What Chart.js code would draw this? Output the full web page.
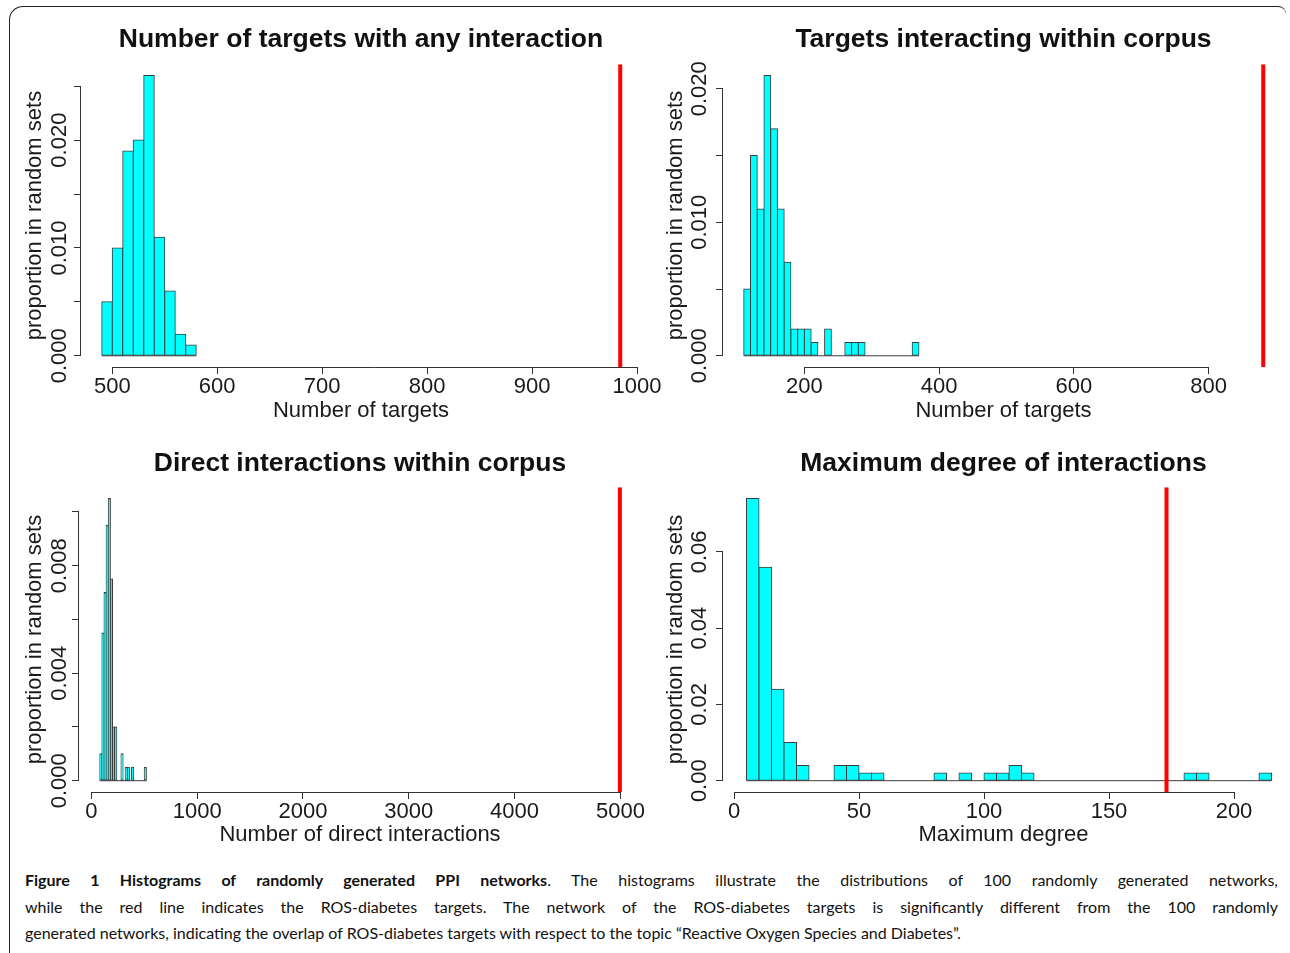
<!DOCTYPE html>
<html>
<head>
<meta charset="utf-8">
<script src="https://cdn.jsdelivr.net/npm/chart.js@4.4.1/dist/chart.umd.min.js"></script>
<style>
html, body { margin: 0; padding: 0; background: #fff; overflow: hidden; }
body { width: 1290px; height: 953px; position: relative; }
.frame { position: absolute; left: 9px; top: 6px; width: 1276px; height: 970px;
  border-top: 1.5px solid #222; border-left: 1.5px solid #222;
  border-top-left-radius: 14px; border-top-right-radius: 8px; }
canvas { position: absolute; }
#c1 { left: 10px; top: 10px; }
#c2 { left: 650px; top: 10px; }
#c3 { left: 10px; top: 430px; }
#c4 { left: 650px; top: 430px; }
.caption { position: absolute; left: 25px; top: 867px; width: 1253px;
  font-family: "Lato", sans-serif; font-size: 16px; line-height: 26.5px; color: #111; }
.caption .j { text-align: justify; text-align-last: justify; }
.caption .l { white-space: nowrap; }
</style>
</head>
<body>
<div class="frame"></div>
<canvas id="c1" width="670" height="417"></canvas>
<canvas id="c2" width="640" height="417"></canvas>
<canvas id="c3" width="670" height="422"></canvas>
<canvas id="c4" width="640" height="422"></canvas>
<div class="caption">
  <div class="j"><b>Figure 1 Histograms of randomly generated PPI networks</b>. The histograms illustrate the distributions of 100 randomly generated networks,</div>
  <div class="j">while the red line indicates the ROS-diabetes targets. The network of the ROS-diabetes targets is significantly different from the 100 randomly</div>
  <div class="l">generated networks, indicating the overlap of ROS-diabetes targets with respect to the topic “Reactive Oxygen Species and Diabetes”.</div>
</div>
<script>
// histogram data: bin starts, densities, red line (ROS-diabetes value)
var bins1 = [490, 500, 510, 520, 530, 540, 550, 560, 570];
var dens1 = [0.005, 0.010, 0.019, 0.020, 0.026, 0.011, 0.006, 0.002, 0.001];
var red1 = 984;
var xTicks1 = [500, 600, 700, 800, 900, 1000];
var yTicks1 = [0, 0.005, 0.010, 0.015, 0.020, 0.025];
var yLabels1 = ['0.000', '', '0.010', '', '0.020', ''];

var bins2 = [110, 120, 130, 140, 150, 160, 170, 180, 190, 200, 210, 220, 230, 240, 250, 260, 270, 280, 290, 300, 310, 320, 330, 340, 350, 360];
var dens2 = [0.005, 0.015, 0.011, 0.021, 0.017, 0.011, 0.007, 0.002, 0.002, 0.002, 0.001, 0, 0.002, 0, 0, 0.001, 0.001, 0.001, 0, 0, 0, 0, 0, 0, 0, 0.001];
var red2 = 881;
var xTicks2 = [200, 400, 600, 800];
var yTicks2 = [0, 0.005, 0.010, 0.015, 0.020];
var yLabels2 = ['0.000', '', '0.010', '', '0.020'];

var bins3 = [80, 100, 120, 140, 160, 180, 200, 220, 240, 260, 280, 300, 320, 340, 360, 380, 400, 420, 440, 460, 480, 500];
var dens3 = [0.001, 0.0055, 0.007, 0.0095, 0.0105, 0.0075, 0.002, 0.002, 0, 0, 0.001, 0, 0.0005, 0.0005, 0, 0.0005, 0, 0, 0, 0, 0, 0.0005];
var red3 = 4995;
var xTicks3 = [0, 1000, 2000, 3000, 4000, 5000];
var yTicks3 = [0, 0.002, 0.004, 0.006, 0.008, 0.010];
var yLabels3 = ['0.000', '', '0.004', '', '0.008', ''];

var bins4 = [5, 10, 15, 20, 25, 30, 35, 40, 45, 50, 55, 60, 65, 70, 75, 80, 85, 90, 95, 100, 105, 110, 115, 120, 125, 130, 135, 140, 145, 150, 155, 160, 165, 170, 175, 180, 185, 190, 195, 200, 205, 210];
var dens4 = [0.074, 0.056, 0.024, 0.010, 0.004, 0, 0, 0.004, 0.004, 0.002, 0.002, 0, 0, 0, 0, 0.002, 0, 0.002, 0, 0.002, 0.002, 0.004, 0.002, 0, 0, 0, 0, 0, 0, 0, 0, 0, 0, 0, 0, 0.002, 0.002, 0, 0, 0, 0, 0.002];
var red4 = 173;
var xTicks4 = [0, 50, 100, 150, 200];
var yTicks4 = [0, 0.02, 0.04, 0.06];
var yLabels4 = ['0.00', '0.02', '0.04', '0.06'];

Chart.defaults.font.family = 'Liberation Sans';
Chart.defaults.color = '#1a1a1a';

// R-style axis lines: only from first to last tick
var axisLines = {
  id: 'axisLines',
  afterDraw: function (chart) {
    var ctx = chart.ctx, xs = chart.scales.x, ys = chart.scales.y;
    var xt = xs.ticks, yt = ys.ticks;
    ctx.save();
    ctx.strokeStyle = '#333';
    ctx.lineWidth = 1;
    ctx.beginPath();
    var yy = Math.round(xs.top) + 0.5;
    ctx.moveTo(xs.getPixelForValue(xt[0].value), yy);
    ctx.lineTo(xs.getPixelForValue(xt[xt.length - 1].value), yy);
    var xx = Math.round(ys.right) - 0.5;
    ctx.moveTo(xx, ys.getPixelForValue(yt[0].value));
    ctx.lineTo(xx, ys.getPixelForValue(yt[yt.length - 1].value));
    ctx.stroke();
    ctx.restore();
  }
};

function histo(id, o) {
  var bars = o.bins.map(function (s, i) { return { x: s + o.bw / 2, y: o.dens[i] }; });
  var end = o.bins[o.bins.length - 1] + o.bw;
  return new Chart(document.getElementById(id), {
    type: 'bar',
    data: {
      datasets: [
        { type: 'line', data: [{ x: o.bins[0], y: 0 }, { x: end, y: 0 }], borderColor: '#3c3c3c', borderWidth: 1, pointRadius: 0, order: 3 },
        { type: 'bar', data: bars, backgroundColor: '#00FFFF', borderColor: '#3c3c3c', borderWidth: 1, borderSkipped: false,
          barPercentage: 1, categoryPercentage: 1, inflateAmount: 0.5, order: 2 },
        { type: 'line', data: [{ x: o.red, y: o.yMin }, { x: o.red, y: o.yMax }], borderColor: '#FF0000', borderWidth: 4, pointRadius: 0, order: 1 }
      ]
    },
    options: {
      responsive: false,
      animation: false,
      devicePixelRatio: 1,
      layout: { padding: { left: 0, right: o.padR, top: 0, bottom: 0 } },
      plugins: {
        legend: { display: false },
        tooltip: { enabled: false },
        title: { display: true, text: o.title, fullSize: false, color: '#111',
          font: { size: 26.5, weight: 'bold' }, padding: { top: o.tTop, bottom: o.tBot } }
      },
      scales: {
        x: {
          type: 'linear', min: o.xMin, max: o.xMax, offset: false,
          grid: { offset: false, drawOnChartArea: false, drawTicks: true, tickLength: 7, color: '#333' },
          border: { display: false },
          ticks: { autoSkip: false, maxRotation: 0, padding: 0, font: { size: 22 },
            callback: function (v, i) { return String(o.xTicks[i]); } },
          afterBuildTicks: function (s) { s.ticks = o.xTicks.map(function (v) { return { value: v }; }); },
          afterFit: function (s) { s.height = 60; },
          title: { display: true, text: o.xTitle, font: { size: 22 }, padding: { top: 0, bottom: o.xTitlePad } }
        },
        y: {
          type: 'linear', min: o.yMin, max: o.yMax, beginAtZero: false,
          grid: { drawOnChartArea: false, drawTicks: true, tickLength: 7, color: '#333' },
          border: { display: false },
          ticks: { autoSkip: false, minRotation: 90, maxRotation: 90, crossAlign: 'center', padding: o.yPad,
            font: { size: 22 }, callback: function (v, i) { return o.yLabels[i]; } },
          afterBuildTicks: function (s) { s.ticks = o.yTicks.map(function (v) { return { value: v }; }); },
          afterFit: function (s) { s.width = o.yW; },
          title: { display: true, text: 'proportion in random sets', font: { size: 22 }, padding: { top: o.yTitlePad, bottom: 0 } }
        }
      }
    },
    plugins: [axisLines]
  });
}

histo('c1', { bins: bins1, dens: dens1, bw: 10, red: red1, xTicks: xTicks1, yTicks: yTicks1, yLabels: yLabels1,
  xMin: 470.2, xMax: 1003.8, yMin: -0.00104, yMax: 0.02704,
  title: 'Number of targets with any interaction', xTitle: 'Number of targets',
  padR: 39, tTop: 14.2, tBot: 8.2, yW: 71, yPad: -13.5, yTitlePad: 11.8, xTitlePad: 2.8 });

histo('c2', { bins: bins2, dens: dens2, bw: 10, red: red2, xTicks: xTicks2, yTicks: yTicks2, yLabels: yLabels2,
  xMin: 79.2, xMax: 911.8, yMin: -0.00084, yMax: 0.02184,
  title: 'Targets interacting within corpus', xTitle: 'Number of targets',
  padR: 6, tTop: 14.2, tBot: 8.2, yW: 73, yPad: -11.5, yTitlePad: 12.8, xTitlePad: 2.8 });

histo('c3', { bins: bins3, dens: dens3, bw: 20, red: red3, xTicks: xTicks3, yTicks: yTicks3, yLabels: yLabels3,
  xMin: -116.7, xMax: 5194.7, yMin: -0.00042, yMax: 0.01092,
  title: 'Direct interactions within corpus', xTitle: 'Number of direct interactions',
  padR: 39, tTop: 18.2, tBot: 7.2, yW: 69, yPad: -15.5, yTitlePad: 11.8, xTitlePad: 3.8 });

histo('c4', { bins: bins4, dens: dens4, bw: 5, red: red4, xTicks: xTicks4, yTicks: yTicks4, yLabels: yLabels4,
  xMin: -4.4, xMax: 220, yMin: -0.00296, yMax: 0.07696,
  title: 'Maximum degree of interactions', xTitle: 'Maximum degree',
  padR: 6, tTop: 18.2, tBot: 7.2, yW: 73, yPad: -5.3, yTitlePad: 12.8, xTitlePad: 3.8 });
</script>
</body>
</html>
